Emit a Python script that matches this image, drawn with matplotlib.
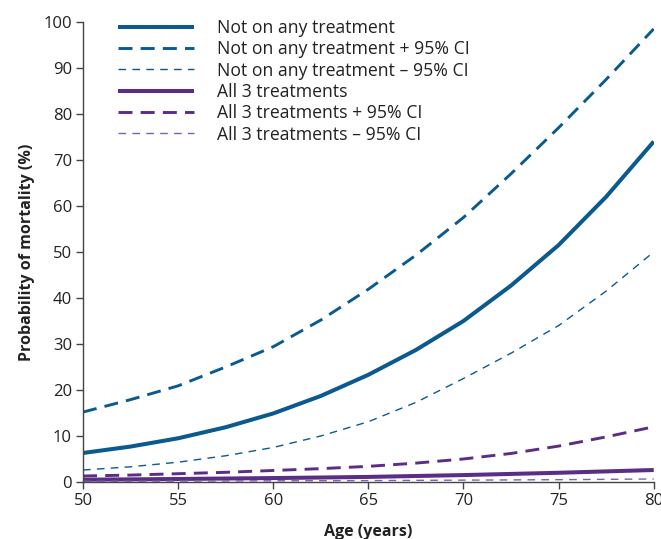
import matplotlib
matplotlib.use("Agg")
import matplotlib.pyplot as plt

plt.rcParams['font.family'] = ['Open Sans', 'DejaVu Sans']

ages = [50, 52.5, 55, 57.5, 60, 62.5, 65, 67.5, 70, 72.5, 75, 77.5, 80]
none_mid = [6.3, 7.7, 9.5, 11.9, 14.9, 18.7, 23.3, 28.7, 35.0, 42.7, 51.5, 62.0, 74.0]
none_up = [15.2, 17.9, 20.9, 25.0, 29.4, 35.2, 41.9, 49.3, 57.5, 67.0, 77.0, 87.5, 98.5]
none_lo = [2.6, 3.3, 4.3, 5.7, 7.5, 10.0, 13.1, 17.3, 22.5, 28.0, 34.0, 41.5, 50.0]
all3_mid = [0.5, 0.57, 0.65, 0.75, 0.85, 0.97, 1.1, 1.3, 1.5, 1.75, 2.0, 2.3, 2.6]
all3_up = [1.3, 1.5, 1.8, 2.1, 2.5, 2.9, 3.4, 4.1, 5.0, 6.2, 7.8, 9.8, 12.0]
all3_lo = [0.15, 0.17, 0.2, 0.22, 0.25, 0.28, 0.3, 0.35, 0.4, 0.45, 0.5, 0.57, 0.65]

labels = ["Not on any treatment", "Not on any treatment + 95% CI",
          "Not on any treatment \u2013 95% CI", "All 3 treatments",
          "All 3 treatments + 95% CI", "All 3 treatments \u2013 95% CI"]
xticks = [50, 55, 60, 65, 70, 75, 80]
yticks = list(range(0, 101, 10))

blue = "#0a5a8f"
purple = "#5c2d87"
purple_light = "#8060aa"

fig = plt.figure(figsize=(6.61, 5.39), dpi=100)
ax = fig.add_axes([0.1256, 0.1058, 0.8634, 0.8535])

ax.plot(ages, none_mid, color=blue, lw=2.9, solid_capstyle='butt', label=labels[0])
ax.plot(ages, none_up, color=blue, lw=2.1, dashes=(4.8, 2.8), label=labels[1])
ax.plot(ages, none_lo, color=blue, lw=1.0, dashes=(5.5, 4.5), label=labels[2])
ax.plot(ages, all3_mid, color=purple, lw=2.9, solid_capstyle='butt', label=labels[3])
ax.plot(ages, all3_up, color=purple, lw=2.1, dashes=(4.8, 2.8), label=labels[4])
ax.plot(ages, all3_lo, color=purple_light, lw=1.0, dashes=(5.5, 4.5), label=labels[5])

ax.set_xlim(50, 80)
ax.set_ylim(0, 100)
ax.set_xticks(xticks)
ax.set_yticks(yticks)
for s in ['top', 'right']:
    ax.spines[s].set_visible(False)
for s in ['left', 'bottom']:
    ax.spines[s].set_color('#444444')
    ax.spines[s].set_linewidth(1.0)
ax.tick_params(axis='both', direction='out', length=5, width=1.0, color='#444444',
               labelsize=12, labelcolor='#222222', pad=3)

ax.set_ylabel("Probability of mortality (%)", fontsize=11.5, fontweight='bold',
              color='#222222', labelpad=6)
ax.set_xlabel("Age (years)", fontsize=11.5, fontweight='bold', color='#222222', labelpad=10.5)

leg = fig.legend(loc='upper left', bbox_to_anchor=(0.178, 0.965),
                 bbox_transform=fig.transFigure, frameon=False, fontsize=12.7,
                 handlelength=4.3, handletextpad=1.35, labelspacing=0.19,
                 borderpad=0, borderaxespad=0)
for t in leg.get_texts():
    t.set_color('#222222')

fig.savefig("out.png", dpi=100)
